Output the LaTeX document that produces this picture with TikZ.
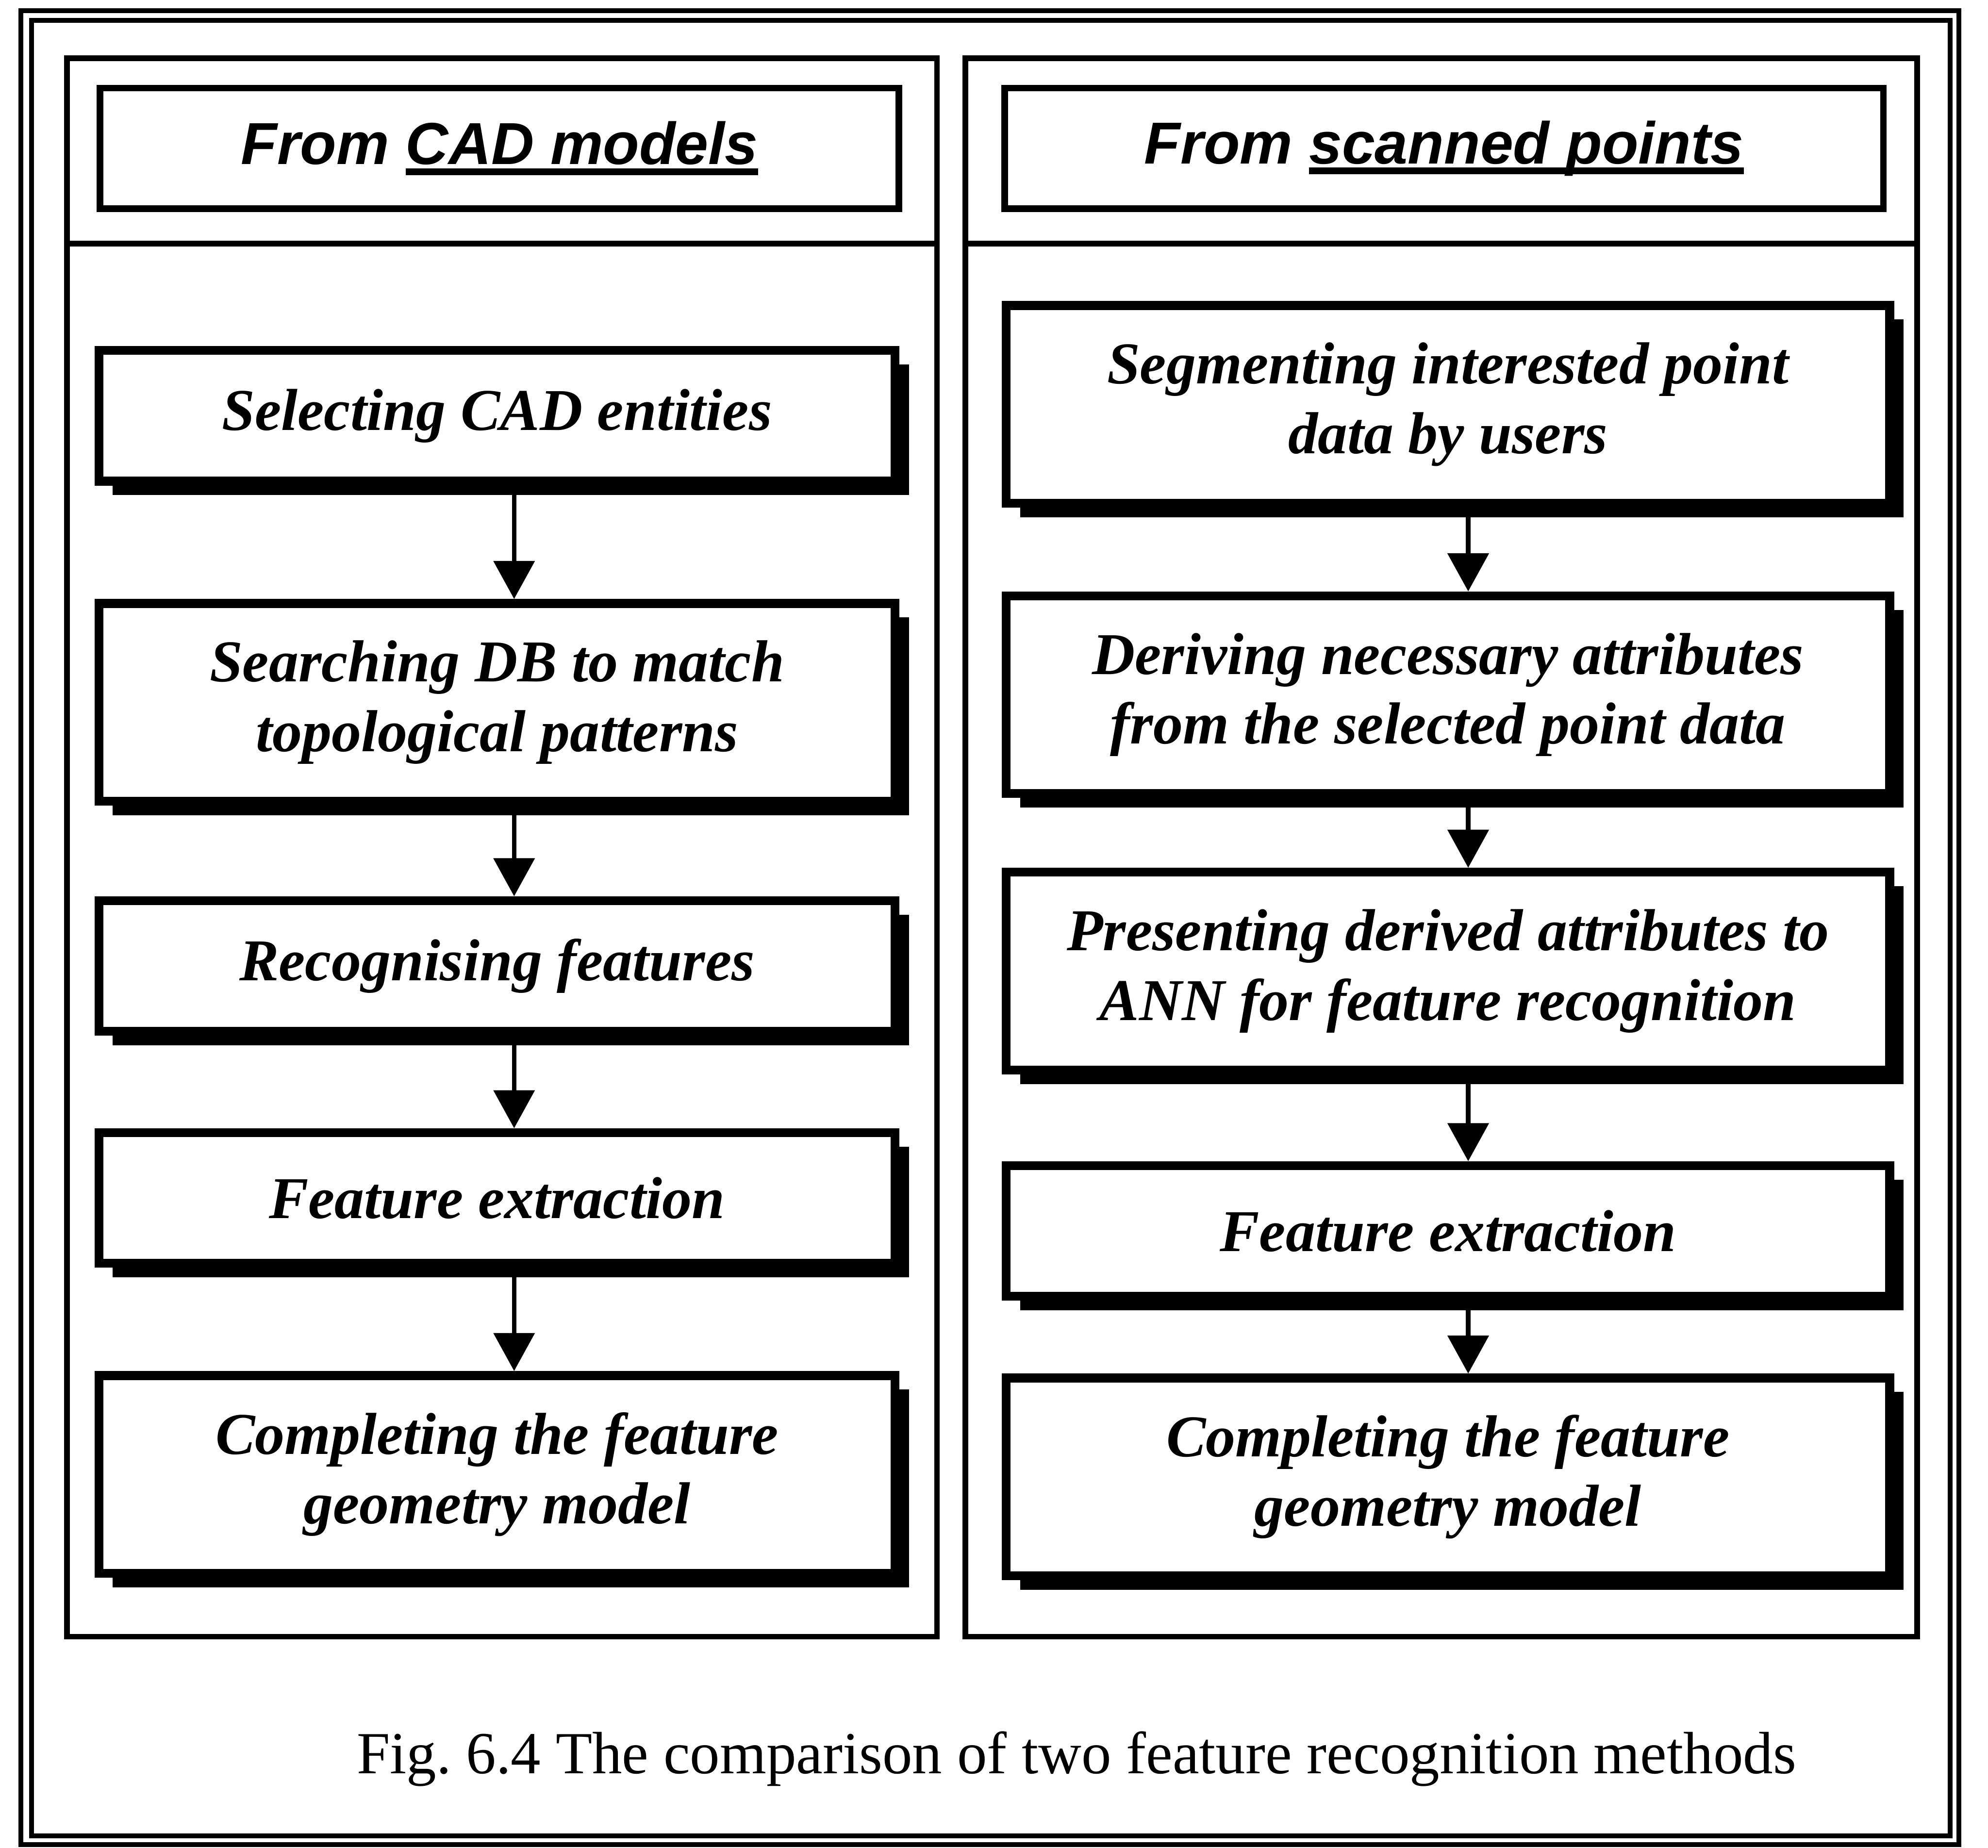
\documentclass[tikz,border=0pt]{standalone}
\usepackage{fontspec}
\setmainfont{Liberation Serif}
\newfontfamily\headfont{Liberation Sans}
\usetikzlibrary{arrows.meta,shadows,positioning}

% thick underline for the column titles
\newcommand{\ulbox}[1]{\setbox0\hbox{#1}\rlap{\rule[-2.4pt]{\wd0}{1.5pt}}\box0}

\begin{document}
\begin{tikzpicture}[
    procbox/.style={draw, line width=2pt, fill=white, align=center, inner sep=2pt,
        drop shadow={shadow xshift=0.11cm, shadow yshift=-0.11cm, fill=black, opacity=1},
        font=\fontsize{13.3pt}{15.6pt}\selectfont\bfseries\itshape, minimum height=1.03cm},
    lbox/.style={procbox, minimum width=6.28cm},
    rbox/.style={procbox, minimum width=6.97cm},
    tall/.style={minimum height=1.56cm},
    headbox/.style={draw, line width=1.5pt, minimum height=0.95cm,
        font=\headfont\fontsize{13.3pt}{16pt}\selectfont\bfseries\itshape},
    panel/.style={line width=1.3pt},
    flow/.style={line width=1pt, -{Triangle[width=0.32cm,length=0.3cm]}}
]
    \useasboundingbox (0,0) rectangle (15.68,-14.575);

    % double frame
    \draw[line width=1.1pt] (0.165,-0.085) rectangle (15.45,-14.55);
    \draw[line width=1.1pt] (0.25,-0.16) rectangle (15.38,-14.48);

    % the two columns
    \draw[panel] (0.53,-0.46) rectangle (7.39,-12.91);
    \draw[panel] (0.53,-1.92) -- (7.39,-1.92);
    \draw[panel] (7.615,-0.46) rectangle (15.12,-12.91);
    \draw[panel] (7.615,-1.92) -- (15.12,-1.92);

    \node[headbox, minimum width=6.3cm] (cadhead) at (3.94,-1.17) {From \ulbox{CAD models}};
    \node[headbox, minimum width=6.93cm] (scanhead) at (11.39,-1.17) {From \ulbox{scanned points}};

    % left column
    \node[lbox] (cad1) at (3.92,-3.28) {Selecting CAD entities};
    \node[lbox,tall] (cad2) at (3.92,-5.54) {Searching DB to match\\topological patterns};
    \node[lbox] (cad3) at (3.92,-7.62) {Recognising features};
    \node[lbox] (cad4) at (3.92,-9.45) {Feature extraction};
    \node[lbox,tall] (cad5) at (3.92,-11.63) {Completing the feature\\geometry model};

    % right column
    \node[rbox,tall] (scan1) at (11.42,-3.19) {Segmenting interested point\\data by users};
    \node[rbox,tall] (scan2) at (11.42,-5.48) {Deriving necessary attributes\\from the selected point data};
    \node[rbox,tall] (scan3) at (11.42,-7.66) {Presenting derived attributes to\\ANN for feature recognition};
    \node[rbox] (scan4) at (11.42,-9.71) {Feature extraction};
    \node[rbox,tall] (scan5) at (11.42,-11.65) {Completing the feature\\geometry model};

    \coordinate (lx) at (4.055,0);
    \coordinate (rx) at (11.58,0);
    \foreach \i [count=\j from 2] in {1,...,4} {
        \draw[flow] (cad\i.south -| lx) -- (cad\j.north -| lx);
        \draw[flow] (scan\i.south -| rx) -- (scan\j.north -| rx);
    }

    \node[anchor=base, font=\fontsize{13.4pt}{16pt}\selectfont] (caption) at (8.49,-13.99)
        {Fig.\ 6.4 The comparison of two feature recognition methods};
\end{tikzpicture}
\end{document}
